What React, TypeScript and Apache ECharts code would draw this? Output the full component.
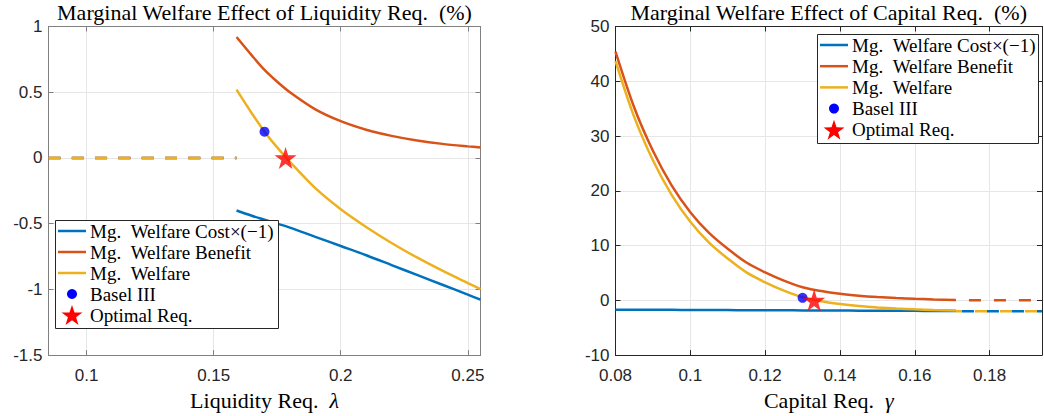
import React, { useEffect, useRef } from "react";
import * as echarts from "echarts";

// ---------- Left panel: liquidity requirement ----------
const liqX = [0.159, 0.165, 0.17, 0.175, 0.18, 0.19, 0.2, 0.21, 0.22, 0.23, 0.24, 0.25, 0.255];
const liqBenefit = [0.92, 0.78, 0.67, 0.58, 0.5, 0.37, 0.28, 0.215, 0.168, 0.133, 0.107, 0.088, 0.08];
const liqCost = [-0.4, -0.44, -0.47, -0.5, -0.53, -0.6, -0.67, -0.74, -0.815, -0.89, -0.965, -1.04, -1.078];
const liqWelfare = [0.52, 0.34, 0.2, 0.08, -0.03, -0.23, -0.39, -0.525, -0.647, -0.757, -0.858, -0.952, -0.998];
const liqDashX = [0.085, 0.159];
const liqDashY = [0, 0];
const liqBasel = [0.17, 0.2];
const liqOptimal = [0.1783, 0];
const liqXTicks = [0.1, 0.15, 0.2, 0.25];

// ---------- Right panel: capital requirement ----------
const capX = [0.08, 0.085, 0.09, 0.095, 0.1, 0.105, 0.11, 0.115, 0.12, 0.125, 0.13, 0.135, 0.14, 0.145, 0.15, 0.155, 0.16, 0.165, 0.171];
const capBenefit = [45.4, 35.2, 27.3, 21.0, 16.1, 12.3, 9.4, 6.9, 5.1, 3.6, 2.4, 1.7, 1.2, 0.85, 0.6, 0.42, 0.28, 0.17, 0.08];
const capCost = [-1.7, -1.71, -1.73, -1.74, -1.76, -1.77, -1.78, -1.8, -1.81, -1.82, -1.84, -1.85, -1.86, -1.88, -1.89, -1.9, -1.92, -1.93, -1.95];
const capWelfare = [43.7, 33.49, 25.57, 19.26, 14.34, 10.53, 7.62, 5.1, 3.29, 1.78, 0.56, -0.15, -0.66, -1.03, -1.29, -1.48, -1.64, -1.76, -1.87];
const capDashX = [0.171, 0.194];
const capDashBenefit = [0, 0];
const capDashCost = [-2, -2];
const capDashWelfare = [-2, -2];
const capBasel = [0.13, 0.45];
const capOptimal = [0.1331, 0];

const legendLabels = ["Mg.\u2002Welfare Cost×(−1)", "Mg.\u2002Welfare Benefit", "Mg.\u2002Welfare", "Basel III", "Optimal Req."];
const titles = ["Marginal Welfare Effect of Liquidity Req.\u2002(%)", "Marginal Welfare Effect of Capital Req.\u2002(%)"];

const BLUE = "#0072BD";
const ORANGE = "#D95319";
const YELLOW = "#EDB120";
const SERIF = "'Liberation Serif', 'DejaVu Serif', serif";
const SANS = "'Liberation Sans', Arial, sans-serif";
const STAR = "path://M50 0 L61.17 34.63 L97.55 34.55 L68.07 55.87 L79.39 90.45 L50 69 L20.61 90.45 L31.93 55.87 L2.45 34.55 L38.83 34.63 Z";

const zip = (xs: number[], ys: number[]) => xs.map((x, i) => [x, ys[i]]);

function starPoints(cx: number, cy: number, R: number, r: number) {
  const pts: number[][] = [];
  for (let k = 0; k < 10; k++) {
    const a = (-90 + k * 36) * Math.PI / 180;
    const rad = k % 2 === 0 ? R : r;
    pts.push([cx + rad * Math.cos(a), cy + rad * Math.sin(a)]);
  }
  return pts;
}

function legendGraphic(x: number, y: number, w: number, h: number, rowH: number) {
  const els: any[] = [
    { type: "rect", shape: { x: x + 0.5, y: y + 0.5, width: w, height: h }, style: { fill: "#fff", stroke: "#262626", lineWidth: 1 }, z: 100 },
  ];
  const colors = [BLUE, ORANGE, YELLOW];
  legendLabels.forEach((t, i) => {
    const cy = y + 11 + i * rowH;
    if (i < 3) {
      els.push({ type: "line", shape: { x1: x + 3, y1: cy, x2: x + 31, y2: cy }, style: { stroke: colors[i], lineWidth: 2.5 }, z: 101 });
    } else if (i === 3) {
      els.push({ type: "circle", shape: { cx: x + 17, cy, r: 5 }, style: { fill: "#0000FF" }, z: 101 });
    } else {
      els.push({ type: "polygon", shape: { points: starPoints(x + 17, cy + 1, 11, 4.3) }, style: { fill: "#FF0000" }, z: 101 });
    }
    els.push({ type: "text", x: x + 35, y: cy, style: { text: t, font: `19px ${SERIF}`, fill: "#000", textVerticalAlign: "middle", textAlign: "left" }, z: 102 });
  });
  return els;
}

export default function App() {
  const ref = useRef<HTMLDivElement>(null);
  useEffect(() => {
    if (!ref.current) return;
    const chart = echarts.init(ref.current, null, { renderer: "svg" });
    const gridLine = { show: true, lineStyle: { color: "#e6e6e6", width: 1 } };
    const lAx = "#808080";
    const rAx = "#262626";
    const lbl = { color: "#262626", fontSize: 17, fontFamily: SANS };
    const axisName = {
      fontFamily: SERIF, fontSize: 22, color: "#000",
      rich: { i: { fontFamily: SERIF, fontSize: 22, fontStyle: "italic", color: "#000" } },
    };
    const line = (name: string, xi: number, xs: number[], ys: number[], color: string, dash?: any, offset = 0) => ({
      type: "line", name, xAxisIndex: xi, yAxisIndex: xi, data: zip(xs, ys),
      showSymbol: false, symbol: "none", smooth: dash ? false : 0.3,
      lineStyle: { color, width: 2.5, type: dash || "solid", dashOffset: offset, cap: "butt" },
      itemStyle: { color }, z: 3,
    });
    const option: any = {
      animation: false,
      grid: [
        { left: 48.5, top: 26.5, width: 432, height: 330 },
        { left: 615.5, top: 26.5, width: 426.5, height: 330 },
      ],
      xAxis: [
        {
          gridIndex: 0, type: "value", min: 0.085, max: 0.255,
          name: "Liquidity Req.\u2002{i|λ}", nameLocation: "middle", nameGap: 32, nameTextStyle: axisName,
          axisLine: { show: true, onZero: false, lineStyle: { color: lAx } },
          axisTick: { show: true, inside: true, length: 5, customValues: liqXTicks, lineStyle: { color: lAx } },
          axisLabel: { customValues: liqXTicks, margin: 12, ...lbl, formatter: (v: number) => String(+v.toFixed(3)) },
          splitLine: gridLine,
        },
        {
          gridIndex: 1, type: "value", min: 0.08, max: 0.194, interval: 0.02,
          name: "Capital Req.\u2002{i|γ}", nameLocation: "middle", nameGap: 32, nameTextStyle: axisName,
          axisLine: { show: true, onZero: false, lineStyle: { color: rAx } },
          axisTick: { show: true, inside: true, length: 5, lineStyle: { color: rAx } },
          axisLabel: { margin: 12, ...lbl, showMaxLabel: false, formatter: (v: number) => String(+v.toFixed(3)) },
          splitLine: gridLine,
        },
        {
          gridIndex: 0, type: "value", min: 0.085, max: 0.255, position: "top",
          axisLine: { show: true, onZero: false, lineStyle: { color: lAx } },
          axisTick: { show: true, inside: true, length: 5, customValues: liqXTicks, lineStyle: { color: lAx } },
          axisLabel: { show: false }, splitLine: { show: false },
        },
        {
          gridIndex: 1, type: "value", min: 0.08, max: 0.194, interval: 0.02, position: "top",
          axisLine: { show: true, onZero: false, lineStyle: { color: rAx } },
          axisTick: { show: true, inside: true, length: 5, lineStyle: { color: rAx } },
          axisLabel: { show: false }, splitLine: { show: false },
        },
      ],
      yAxis: [
        {
          gridIndex: 0, type: "value", min: -1.5, max: 1, interval: 0.5,
          axisLine: { show: true, onZero: false, lineStyle: { color: lAx } },
          axisTick: { show: true, inside: true, length: 5, lineStyle: { color: lAx } },
          axisLabel: { margin: 6, ...lbl }, splitLine: gridLine,
        },
        {
          gridIndex: 1, type: "value", min: -10, max: 50, interval: 10,
          axisLine: { show: true, onZero: false, lineStyle: { color: rAx } },
          axisTick: { show: true, inside: true, length: 5, lineStyle: { color: rAx } },
          axisLabel: { margin: 6, ...lbl }, splitLine: gridLine,
        },
        {
          gridIndex: 0, type: "value", min: -1.5, max: 1, interval: 0.5, position: "right",
          axisLine: { show: true, onZero: false, lineStyle: { color: lAx } },
          axisTick: { show: true, inside: true, length: 5, lineStyle: { color: lAx } },
          axisLabel: { show: false }, splitLine: { show: false },
        },
        {
          gridIndex: 1, type: "value", min: -10, max: 50, interval: 10, position: "right",
          axisLine: { show: true, onZero: false, lineStyle: { color: rAx } },
          axisTick: { show: true, inside: true, length: 5, lineStyle: { color: rAx } },
          axisLabel: { show: false }, splitLine: { show: false },
        },
      ],
      series: [
        line("cost-dash-l", 0, liqDashX, liqDashY, BLUE, [12, 11.3]),
        line("benefit-dash-l", 0, liqDashX, liqDashY, ORANGE, [12, 11.3]),
        line("welfare-dash-l", 0, liqDashX, liqDashY, YELLOW, [12, 11.3]),
        line(legendLabels[0], 0, liqX, liqCost, BLUE),
        line(legendLabels[1], 0, liqX, liqBenefit, ORANGE),
        line(legendLabels[2], 0, liqX, liqWelfare, YELLOW),
        {
          type: "scatter", name: legendLabels[3], xAxisIndex: 0, yAxisIndex: 0, data: [liqBasel],
          symbol: "circle", symbolSize: 10, itemStyle: { color: "#0000FF" }, z: 5,
        },
        {
          type: "scatter", name: legendLabels[4], xAxisIndex: 0, yAxisIndex: 0, data: [liqOptimal],
          symbol: STAR, symbolSize: 22, itemStyle: { color: "#FF0000" }, z: 6,
        },
        line("cost-dash-r", 1, capDashX, capDashCost, BLUE, [12, 13], 19),
        line("benefit-dash-r", 1, capDashX, capDashBenefit, ORANGE, [12, 13], 12),
        line("welfare-dash-r", 1, capDashX, capDashWelfare, YELLOW, [12, 13], 6),
        line(legendLabels[0] + " ", 1, capX, capCost, BLUE),
        line(legendLabels[1] + " ", 1, capX, capBenefit, ORANGE),
        line(legendLabels[2] + " ", 1, capX, capWelfare, YELLOW),
        {
          type: "scatter", name: legendLabels[3] + " ", xAxisIndex: 1, yAxisIndex: 1, data: [capBasel],
          symbol: "circle", symbolSize: 10, itemStyle: { color: "#0000FF" }, z: 5,
        },
        {
          type: "scatter", name: legendLabels[4] + " ", xAxisIndex: 1, yAxisIndex: 1, data: [capOptimal],
          symbol: STAR, symbolSize: 22, itemStyle: { color: "#FF0000" }, z: 6,
        },
      ],
      graphic: [
        { type: "text", x: 264.5, y: 12, style: { text: titles[0], font: `22px ${SERIF}`, fill: "#000", textAlign: "center", textVerticalAlign: "middle" } },
        { type: "text", x: 828.7, y: 12, style: { text: titles[1], font: `22px ${SERIF}`, fill: "#000", textAlign: "center", textVerticalAlign: "middle" } },
        ...legendGraphic(55, 220, 223, 108, 21),
        ...legendGraphic(817, 34, 221, 109, 21.2),
      ],
    };
    chart.setOption(option);
    return () => chart.dispose();
  }, []);
  return <div ref={ref} style={{ position: "fixed", left: 0, top: 0, width: 1044, height: 416, background: "#fff" }} />;
}
